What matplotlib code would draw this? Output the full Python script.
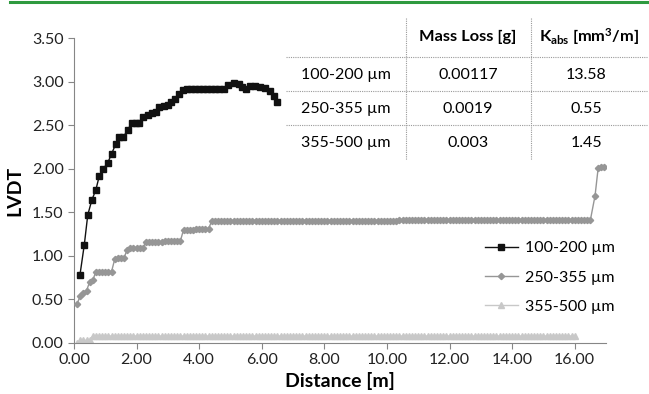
import numpy as np
import matplotlib.pyplot as plt
from matplotlib.lines import Line2D

plt.rcParams['font.family'] = ['Lato', 'DejaVu Sans']
plt.rcParams['mathtext.default'] = 'regular'

# ── data ──────────────────────────────────────────────────────────────────────
# 100-200 µm
s1_x = [0.19, 0.33, 0.44, 0.57, 0.70, 0.81, 0.94, 1.08, 1.20, 1.33, 1.44, 1.58,
        1.71, 1.85, 1.98, 2.09, 2.22, 2.36, 2.49, 2.61, 2.73, 2.86, 2.99, 3.10,
        3.23, 3.36, 3.48, 3.60, 3.73, 3.86, 3.99, 4.12, 4.25, 4.38, 4.51, 4.64,
        4.78, 4.92, 5.10, 5.26, 5.38, 5.50, 5.63, 5.79, 5.95, 6.11, 6.25, 6.38,
        6.49]
s1_y = [0.78, 1.13, 1.47, 1.64, 1.76, 1.92, 2.00, 2.07, 2.17, 2.28, 2.36, 2.36,
        2.45, 2.52, 2.53, 2.53, 2.59, 2.62, 2.64, 2.65, 2.71, 2.72, 2.73, 2.76,
        2.80, 2.86, 2.90, 2.92, 2.92, 2.92, 2.92, 2.92, 2.92, 2.92, 2.92, 2.92,
        2.92, 2.96, 2.98, 2.97, 2.94, 2.91, 2.95, 2.95, 2.94, 2.93, 2.89, 2.84,
        2.77]

# 250-355 µm : sampled every 0.1 m, levels held for the given number of samples
s2_levels = [0.45, 0.54, 0.57, 0.60, 0.70, 0.72, 0.82, 0.96, 0.98, 1.07, 1.09,
             1.16, 1.17, 1.30, 1.31, 1.40, 1.41]
s2_counts = [1, 1, 1, 1, 1, 1, 6, 1, 3, 1, 5, 6, 6, 4, 5, 60, 62]
s2_tail_x = [16.65, 16.75, 16.85, 16.95]
s2_tail_y = [1.69, 2.01, 2.02, 2.02]

# 355-500 µm
s3_levels = [0.00, 0.03, 0.08]
s3_counts = [1, 4, 155]

rows = ["100-200 µm", "250-355 µm", "355-500 µm"]
mass_loss = ["0.00117", "0.0019", "0.003"]
k_abs = ["13.58", "0.55", "1.45"]

s2_y = np.repeat(s2_levels, s2_counts)
s2_x = np.round(0.1 + 0.1 * np.arange(len(s2_y)), 2)
s2_x = np.concatenate([s2_x, s2_tail_x])
s2_y = np.concatenate([s2_y, s2_tail_y])
s3_y = np.repeat(s3_levels, s3_counts)
s3_x = np.round(0.1 + 0.1 * np.arange(len(s3_y)), 2)

# ── figure ────────────────────────────────────────────────────────────────────
fig = plt.figure(figsize=(6.49, 3.94), dpi=100)
ax = fig.add_axes([74 / 649, 51 / 394, 532 / 649, 305 / 394])

ax.plot(s3_x, s3_y, color="#c8c8c8", lw=1, marker="^", ms=4.5,
        label="355-500 µm", zorder=2)
ax.plot(s2_x, s2_y, color="#969696", lw=1, marker="D", ms=3.2,
        label="250-355 µm", zorder=3)
ax.plot(s1_x, s1_y, color="#111111", lw=1, marker="s", ms=5,
        label="100-200 µm", zorder=4)

ax.set_xlim(0, 17)
ax.set_ylim(0, 3.5)
ax.set_xticks(np.arange(0, 17, 2))
ax.set_yticks(np.arange(0, 3.51, 0.5))
ax.xaxis.set_major_formatter(lambda v, p: f"{v:.2f}")
ax.yaxis.set_major_formatter(lambda v, p: f"{v:.2f}")
for s in ("top", "right"):
    ax.spines[s].set_visible(False)
for s in ("left", "bottom"):
    ax.spines[s].set_color("#868686")
ax.tick_params(colors="#868686", labelcolor="#222222", labelsize=11.5,
               length=4, direction="out")
ax.set_xlabel("Distance [m]", fontsize=14, fontweight="bold", labelpad=3)
ax.set_ylabel("LVDT", fontsize=14, fontweight="bold", labelpad=6)

h, l = ax.get_legend_handles_labels()
ax.legend(h[::-1], l[::-1], loc="center left", bbox_to_anchor=(0.745, 0.215),
          frameon=False, fontsize=11.5, handlelength=2.1, labelspacing=0.95,
          handletextpad=0.4)

# ── table ─────────────────────────────────────────────────────────────────────
W, H = 649, 394
def fx(px): return px / W
def fy(py): return 1 - py / H

for yy in (57, 91, 125):
    fig.add_artist(Line2D([fx(286), fx(647)], [fy(yy), fy(yy)], color="#9a9a9a",
                          lw=0.8, ls=(0, (1, 1))))
for xx in (406, 531):
    fig.add_artist(Line2D([fx(xx), fx(xx)], [fy(18), fy(160)], color="#9a9a9a",
                          lw=0.8, ls=(0, (1, 1))))

fig.text(fx(468), fy(37), "Mass Loss [g]", ha="center", va="center",
         fontsize=11.8, fontweight="bold")
fig.text(fx(589), fy(37), r"K$_{abs}$ [mm$^{3}$/m]", ha="center", va="center",
         fontsize=11.8, fontweight="bold")
for i, (r, m, k) in enumerate(zip(rows, mass_loss, k_abs)):
    yy = fy(75 + i * 34)
    fig.text(fx(346), yy, r, ha="center", va="center", fontsize=11.5)
    fig.text(fx(468), yy, m, ha="center", va="center", fontsize=11.5)
    fig.text(fx(586), yy, k, ha="center", va="center", fontsize=11.5)

# green rule at the top
fig.add_artist(Line2D([fx(10), 1], [fy(1.5), fy(1.5)], color="#2e9a3f", lw=2.2))

fig.savefig("out.png", dpi=100)
